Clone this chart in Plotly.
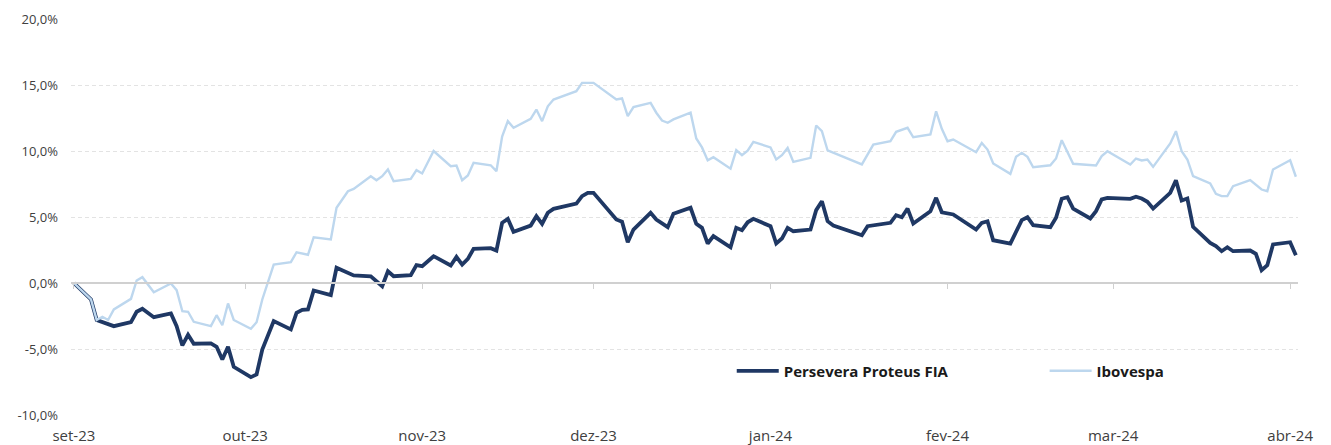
import plotly.graph_objects as go

# ---------------- data (cumulative return, %) ----------------
PROTEUS_DATES = [
    "2023-09-01", "2023-09-04", "2023-09-05", "2023-09-08", "2023-09-11", "2023-09-12", "2023-09-13",
    "2023-09-15", "2023-09-18", "2023-09-19", "2023-09-20", "2023-09-21", "2023-09-22", "2023-09-25",
    "2023-09-26", "2023-09-27", "2023-09-28", "2023-09-29", "2023-10-02", "2023-10-03", "2023-10-04",
    "2023-10-06", "2023-10-09", "2023-10-10", "2023-10-11", "2023-10-12", "2023-10-13", "2023-10-16",
    "2023-10-17", "2023-10-19", "2023-10-20", "2023-10-23", "2023-10-24", "2023-10-25", "2023-10-26",
    "2023-10-27", "2023-10-30", "2023-10-31", "2023-11-01", "2023-11-02", "2023-11-03", "2023-11-06",
    "2023-11-07", "2023-11-08", "2023-11-09", "2023-11-10", "2023-11-13", "2023-11-14", "2023-11-15",
    "2023-11-16", "2023-11-17", "2023-11-20", "2023-11-21", "2023-11-22", "2023-11-23", "2023-11-24",
    "2023-11-28", "2023-11-29", "2023-11-30", "2023-12-01", "2023-12-05", "2023-12-06", "2023-12-07",
    "2023-12-08", "2023-12-11", "2023-12-12", "2023-12-13", "2023-12-14", "2023-12-15", "2023-12-18",
    "2023-12-19", "2023-12-20", "2023-12-21", "2023-12-22", "2023-12-25", "2023-12-26", "2023-12-27",
    "2023-12-28", "2023-12-29", "2024-01-01", "2024-01-02", "2024-01-03", "2024-01-04", "2024-01-05",
    "2024-01-08", "2024-01-09", "2024-01-10", "2024-01-11", "2024-01-12", "2024-01-17", "2024-01-18",
    "2024-01-22", "2024-01-23", "2024-01-24", "2024-01-25", "2024-01-26", "2024-01-29", "2024-01-30",
    "2024-01-31", "2024-02-02", "2024-02-06", "2024-02-07", "2024-02-08", "2024-02-09", "2024-02-12",
    "2024-02-14", "2024-02-15", "2024-02-16", "2024-02-19", "2024-02-20", "2024-02-21", "2024-02-22",
    "2024-02-23", "2024-02-26", "2024-02-27", "2024-02-28", "2024-02-29", "2024-03-04", "2024-03-05",
    "2024-03-06", "2024-03-07", "2024-03-08", "2024-03-11", "2024-03-12", "2024-03-13", "2024-03-14",
    "2024-03-15", "2024-03-18", "2024-03-19", "2024-03-20", "2024-03-21", "2024-03-22", "2024-03-25",
    "2024-03-26", "2024-03-27", "2024-03-28", "2024-03-29", "2024-04-01", "2024-04-02",
]
PROTEUS_VALUES = [
    0.00, -1.25, -2.80, -3.27, -2.97, -2.18, -1.95,
    -2.59, -2.31, -3.27, -4.73, -3.92, -4.60, -4.58,
    -4.83, -5.80, -4.83, -6.35, -7.13, -6.93, -5.04,
    -2.89, -3.52, -2.26, -2.03, -2.00, -0.57, -0.92,
    1.15, 0.72, 0.57, 0.51, 0.14, -0.24, 0.89,
    0.51, 0.59, 1.35, 1.27, 1.65, 2.03, 1.33,
    1.98, 1.40, 1.83, 2.59, 2.64, 2.46, 4.56,
    4.86, 3.88, 4.35, 5.06, 4.48, 5.32, 5.62,
    6.02, 6.58, 6.83, 6.83, 4.81, 4.64, 3.09,
    4.05, 5.32, 4.81, 4.56, 4.23, 5.24, 5.70,
    4.48, 4.18, 2.99, 3.55, 2.71, 4.18, 4.00,
    4.60, 4.86, 4.30, 2.99, 3.37, 4.18, 3.92,
    4.05, 5.52, 6.20, 4.68, 4.36, 3.62, 4.30,
    4.56, 5.14, 4.98, 5.64, 4.50, 5.44, 6.45,
    5.36, 5.19, 4.05, 4.56, 4.68, 3.24, 2.99,
    4.76, 4.98, 4.38, 4.23, 4.94, 6.38, 6.50,
    5.64, 4.89, 5.44, 6.33, 6.45, 6.38, 6.53,
    6.40, 6.15, 5.64, 6.83, 7.79, 6.25, 6.40,
    4.26, 3.04, 2.79, 2.41, 2.71, 2.41, 2.46,
    2.21, 0.97, 1.35, 2.92, 3.09, 2.10,
]

IBOV_DATES = [
    "2023-09-01", "2023-09-04", "2023-09-05", "2023-09-06", "2023-09-07", "2023-09-08", "2023-09-11",
    "2023-09-12", "2023-09-13", "2023-09-15", "2023-09-18", "2023-09-19", "2023-09-20", "2023-09-21",
    "2023-09-22", "2023-09-25", "2023-09-26", "2023-09-27", "2023-09-28", "2023-09-29", "2023-10-02",
    "2023-10-03", "2023-10-04", "2023-10-06", "2023-10-09", "2023-10-10", "2023-10-12", "2023-10-13",
    "2023-10-16", "2023-10-17", "2023-10-19", "2023-10-20", "2023-10-23", "2023-10-24", "2023-10-25",
    "2023-10-26", "2023-10-27", "2023-10-30", "2023-10-31", "2023-11-01", "2023-11-03", "2023-11-06",
    "2023-11-07", "2023-11-08", "2023-11-09", "2023-11-10", "2023-11-13", "2023-11-14", "2023-11-15",
    "2023-11-16", "2023-11-17", "2023-11-20", "2023-11-21", "2023-11-22", "2023-11-23", "2023-11-24",
    "2023-11-28", "2023-11-29", "2023-11-30", "2023-12-01", "2023-12-05", "2023-12-06", "2023-12-07",
    "2023-12-08", "2023-12-11", "2023-12-12", "2023-12-13", "2023-12-14", "2023-12-15", "2023-12-18",
    "2023-12-19", "2023-12-20", "2023-12-21", "2023-12-22", "2023-12-25", "2023-12-26", "2023-12-27",
    "2023-12-28", "2023-12-29", "2024-01-01", "2024-01-02", "2024-01-03", "2024-01-04", "2024-01-05",
    "2024-01-08", "2024-01-09", "2024-01-10", "2024-01-11", "2024-01-17", "2024-01-19", "2024-01-22",
    "2024-01-23", "2024-01-25", "2024-01-26", "2024-01-29", "2024-01-30", "2024-01-31", "2024-02-01",
    "2024-02-02", "2024-02-06", "2024-02-07", "2024-02-08", "2024-02-09", "2024-02-12", "2024-02-13",
    "2024-02-14", "2024-02-15", "2024-02-16", "2024-02-19", "2024-02-20", "2024-02-21", "2024-02-23",
    "2024-02-27", "2024-02-28", "2024-02-29", "2024-03-04", "2024-03-05", "2024-03-06", "2024-03-07",
    "2024-03-08", "2024-03-11", "2024-03-12", "2024-03-13", "2024-03-14", "2024-03-15", "2024-03-18",
    "2024-03-19", "2024-03-20", "2024-03-21", "2024-03-22", "2024-03-25", "2024-03-27", "2024-03-28",
    "2024-03-29", "2024-04-01", "2024-04-02",
]
IBOV_VALUES = [
    0.00, -1.25, -2.80, -2.56, -2.80, -2.00, -1.20,
    0.19, 0.44, -0.70, -0.04, -0.54, -2.14, -2.18,
    -2.94, -3.27, -2.44, -3.20, -1.55, -2.80, -3.47,
    -2.97, -1.25, 1.40, 1.58, 2.33, 2.14, 3.47,
    3.30, 5.70, 6.95, 7.13, 8.09, 7.79, 8.09,
    8.60, 7.71, 7.89, 8.55, 8.30, 10.00, 8.85,
    8.90, 7.79, 8.14, 9.10, 8.92, 8.47, 11.10,
    12.26, 11.76, 12.43, 13.14, 12.26, 13.39, 13.90,
    14.53, 15.16, 15.16, 15.16, 13.90, 13.98, 12.64,
    13.33, 13.65, 12.90, 12.31, 12.14, 12.39, 12.90,
    10.95, 10.27, 9.29, 9.53, 8.66, 10.06, 9.68,
    10.02, 10.69, 10.27, 9.36, 9.68, 10.23, 9.17,
    9.48, 11.93, 11.50, 10.04, 8.98, 10.49, 10.74,
    11.45, 11.76, 11.04, 11.25, 13.01, 11.68, 10.74,
    10.87, 9.91, 10.61, 10.11, 9.05, 8.27, 9.56,
    9.86, 9.56, 8.77, 8.92, 9.43, 10.82, 9.03,
    8.90, 9.61, 9.98, 8.98, 9.43, 9.28, 9.36,
    8.80, 10.57, 11.50, 9.98, 9.36, 8.09, 7.54,
    6.76, 6.58, 6.58, 7.33, 7.79, 7.08, 6.95,
    8.60, 9.30, 8.05,
]

SERIES_NAMES = ["Persevera Proteus FIA", "Ibovespa"]
TICK_DATES = ["2023-09-01", "2023-10-01", "2023-11-01", "2023-12-01",
              "2024-01-01", "2024-02-01", "2024-03-01", "2024-04-01"]
TICK_LABELS = ["set-23", "out-23", "nov-23", "dez-23", "jan-24", "fev-24", "mar-24", "abr-24"]
Y_TICKS = [-10, -5, 0, 5, 10, 15, 20]
Y_LABELS = [f"{v:.1f}%".replace(".", ",") for v in Y_TICKS]

X_RANGE = ["2023-08-31 12:00", "2024-04-02 09:00"]
Y_RANGE = [-10, 20]

DARK = "#1f3864"
LIGHT = "#bdd7ee"
FONT = "'Open Sans', Lato, sans-serif"

fig = go.Figure()
fig.add_trace(go.Scatter(x=PROTEUS_DATES, y=PROTEUS_VALUES, mode="lines", legend="legend",
                         name=SERIES_NAMES[0], line=dict(color=DARK, width=3.8)))
fig.add_trace(go.Scatter(x=IBOV_DATES, y=IBOV_VALUES, mode="lines", legend="legend2",
                         name=SERIES_NAMES[1], line=dict(color=LIGHT, width=2.4)))
# invisible helper trace so the zero-crossing axis (with month ticks) is drawn
fig.add_trace(go.Scatter(x=[TICK_DATES[0]], y=[0], xaxis="x2", mode="markers",
                         marker=dict(opacity=0), showlegend=False, hoverinfo="skip"))

legend_common = dict(orientation="h", yanchor="middle", xanchor="left", itemwidth=42,
                     font=dict(family=FONT, size=15, color="#1a1a1a", weight="bold"),
                     bgcolor="rgba(0,0,0,0)", borderwidth=0)

fig.update_layout(
    width=1331, height=445,
    margin=dict(l=71, r=33, t=19, b=30, autoexpand=False),
    paper_bgcolor="white", plot_bgcolor="white",
    font=dict(family=FONT, size=14, color="#404040"),
    showlegend=True,
    legend=dict(x=0.5385, y=0.111, **legend_common),
    legend2=dict(x=0.7935, y=0.111, **legend_common),
    xaxis=dict(type="date", range=X_RANGE, tickvals=TICK_DATES, ticktext=TICK_LABELS,
               showgrid=False, zeroline=False, showline=False, ticks="", automargin=False,
               tickfont=dict(family=FONT, size=15, color="#404040"), ticklabelstandoff=10),
    xaxis2=dict(type="date", range=X_RANGE, overlaying="x", anchor="free", position=1/3,
                tickvals=TICK_DATES, showticklabels=False, showgrid=False, zeroline=False,
                showline=True, linecolor="#d0d0d0", linewidth=1.5, automargin=False,
                ticks="outside", ticklen=5, tickcolor="#d0d0d0", tickwidth=1),
    yaxis=dict(range=Y_RANGE, tickvals=Y_TICKS, ticktext=Y_LABELS, automargin=False,
               showgrid=True, gridcolor="#e3e3e3", gridwidth=1, griddash="4px,3px",
               zeroline=False, showline=False, ticks="",
               tickfont=dict(family=FONT, size=13, color="#404040"), ticklabelstandoff=12),
)

# remove the browser's default 8px body margin so the figure sits at the page origin
fig.write_html("out.html", config={"displayModeBar": False},
               post_script="document.body.style.margin='0px';")
